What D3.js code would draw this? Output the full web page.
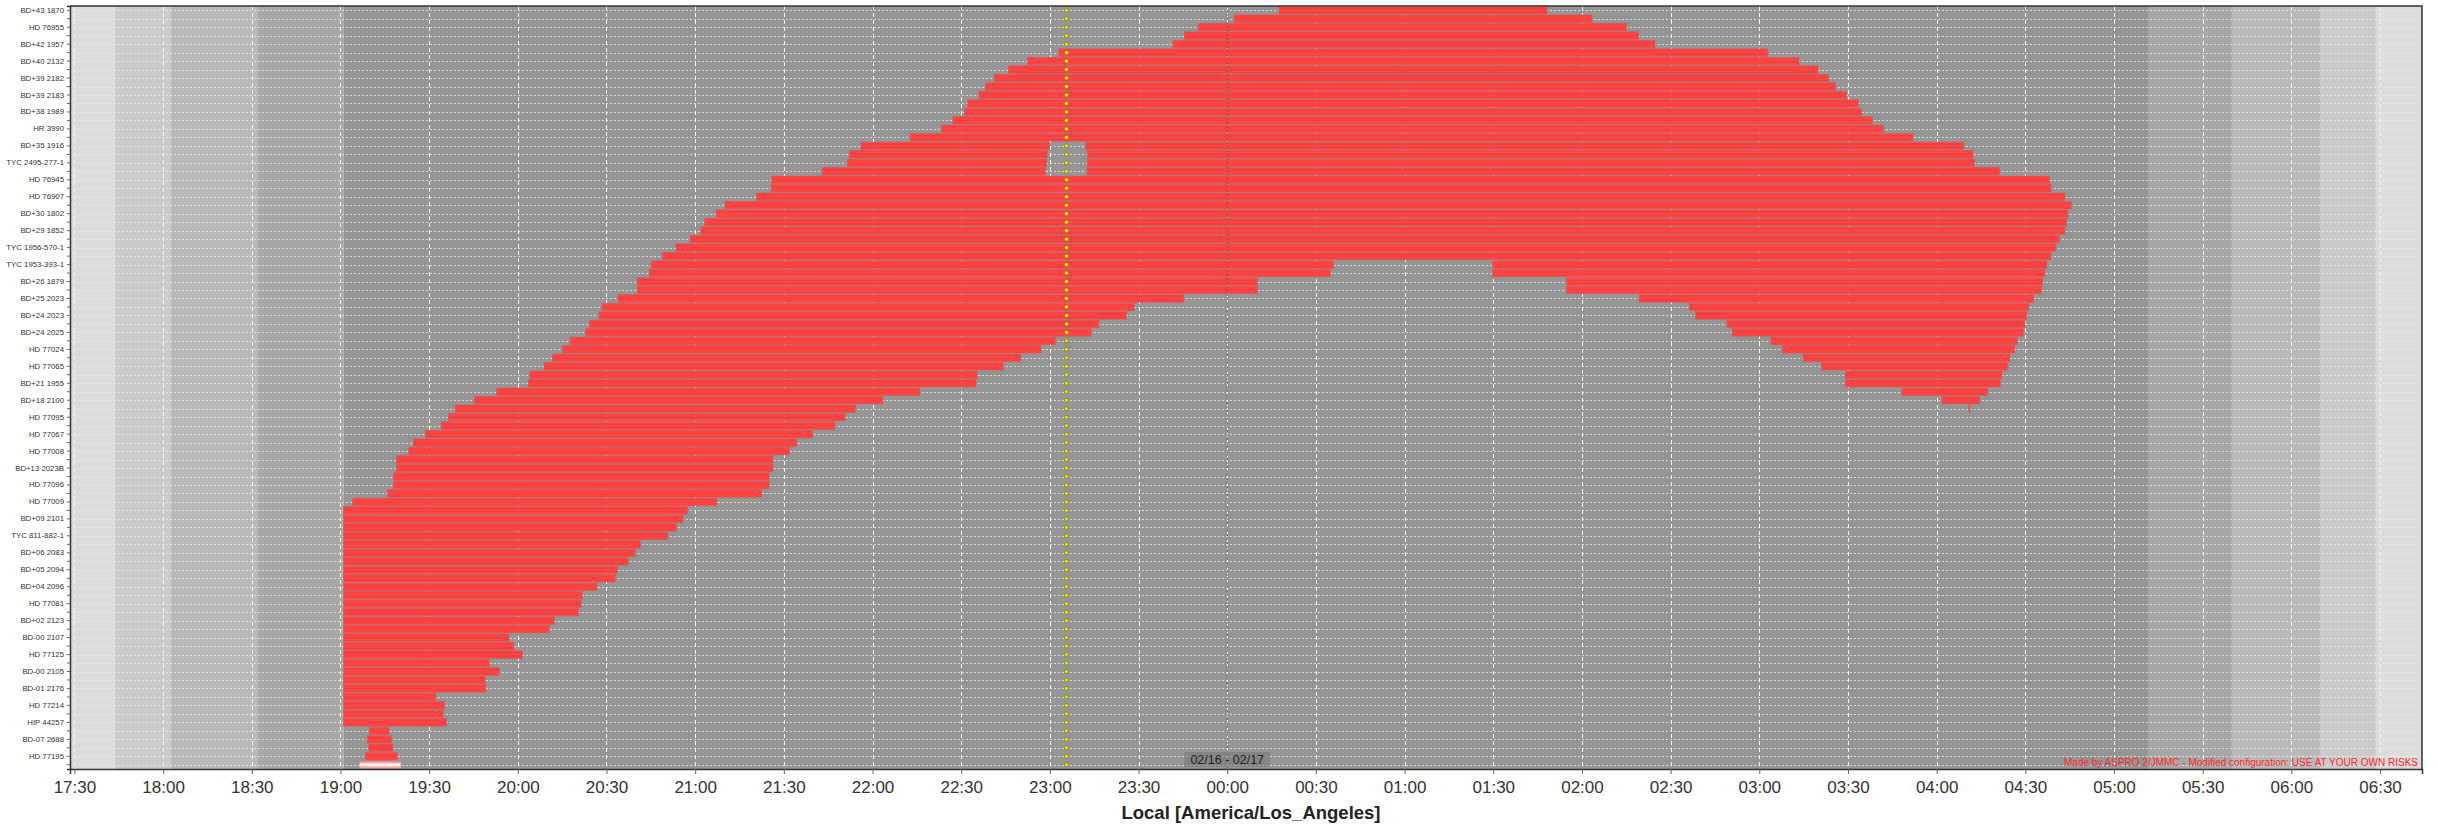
<!DOCTYPE html>
<html>
<head>
<meta charset="utf-8">
<script src="https://cdn.jsdelivr.net/npm/d3@7"></script>
<style>
  body { margin: 0; background: #fff; }
  svg text { font-family: "Liberation Sans", Arial, sans-serif; }
</style>
</head>
<body>
<svg id="canvas"></svg>
<script>
// labels are only printed on every second row (the chart skips the others)
const targets = [
  "BD+43 1870", "HD 76955", "BD+42 1957", "BD+40 2132", "BD+39 2182",
  "BD+39 2183", "BD+38 1989", "HR 3990", "BD+35 1916", "TYC 2495-277-1",
  "HD 76945", "HD 76907", "BD+30 1802", "BD+29 1852", "TYC 1956-570-1",
  "TYC 1953-393-1", "BD+26 1879", "BD+25 2023", "BD+24 2023", "BD+24 2025",
  "HD 77024", "HD 77065", "BD+21 1955", "BD+18 2100", "HD 77095",
  "HD 77067", "HD 77008", "BD+13 2023B", "HD 77096", "HD 77009",
  "BD+09 2101", "TYC 811-882-1", "BD+06 2083", "BD+05 2094", "BD+04 2096",
  "HD 77081", "BD+02 2123", "BD-00 2107", "HD 77125", "BD-00 2105",
  "BD-01 2176", "HD 77214", "HIP 44257", "BD-07 2688", "HD 77195",
];

// observable windows per row, local time (HH:MM.m)
const windows = [
  [["00:17.5", "01:48.2"]],
  [["00:02.3", "02:03.4"]],
  [["23:50.2", "02:15.1"]],
  [["23:45.5", "02:19.1"]],
  [["23:41.6", "02:24.7"]],
  [["23:03.0", "03:02.9"]],
  [["22:52.5", "03:13.4"]],
  [["22:46.0", "03:19.9"]],
  [["22:41.2", "03:23.4"]],
  [["22:38.2", "03:25.8"]],
  [["22:36.0", "03:29.5"]],
  [["22:32.2", "03:33.6"]],
  [["22:31.1", "03:34.6"]],
  [["22:27.2", "03:38.3"]],
  [["22:23.3", "03:42.0"]],
  [["22:12.7", "03:52.0"]],
  [["21:56.1", "22:59.8"], ["23:12.1", "04:09.2"]],
  [["21:52.2", "22:59.1"], ["23:12.7", "04:12.3"]],
  [["21:51.4", "22:58.9"], ["23:12.7", "04:12.7"]],
  [["21:43.0", "22:58.5"], ["23:12.5", "04:21.3"]],
  [["21:25.9", "04:38.3"]],
  [["21:25.7", "04:38.7"]],
  [["21:20.7", "04:43.4"]],
  [["21:10.1", "04:45.6"]],
  [["21:07.1", "04:44.4"]],
  [["21:03.2", "04:44.0"]],
  [["21:01.9", "04:43.4"]],
  [["20:58.3", "04:41.5"]],
  [["20:53.5", "04:40.3"]],
  [["20:49.0", "04:38.7"]],
  [["20:45.1", "00:36.0"], ["01:29.8", "04:37.3"]],
  [["20:44.5", "00:35.0"], ["01:29.8", "04:36.6"]],
  [["20:40.4", "00:10.2"], ["01:54.8", "04:35.8"]],
  [["20:40.4", "00:10.2"], ["01:54.8", "04:35.4"]],
  [["20:33.9", "23:45.3"], ["02:19.3", "04:32.9"]],
  [["20:28.5", "23:28.5"], ["02:36.3", "04:31.1"]],
  [["20:27.4", "23:25.9"], ["02:38.4", "04:30.5"]],
  [["20:24.2", "23:16.6"], ["02:49.0", "04:29.9"]],
  [["20:22.9", "23:14.0"], ["02:50.8", "04:29.3"]],
  [["20:17.7", "23:01.9"], ["03:03.9", "04:27.4"]],
  [["20:15.1", "22:57.0"], ["03:07.8", "04:26.4"]],
  [["20:11.7", "22:50.1"], ["03:14.8", "04:24.8"]],
  [["20:08.9", "22:44.2"], ["03:21.1", "04:24.0"]],
  [["20:04.1", "22:35.4"], ["03:29.1", "04:22.1"]],
  [["20:03.5", "22:35.0"], ["03:29.1", "04:21.5"]],
  [["19:52.9", "22:16.0"], ["03:48.3", "04:17.2"]],
  [["19:45.3", "22:03.5"], ["04:01.8", "04:14.5"]],
  [["19:38.8", "21:54.2"], ["04:10.9", "04:11.3"]],
  [["19:36.5", "21:50.7"]],
  [["19:34.1", "21:47.3"]],
  [["19:28.7", "21:39.7"]],
  [["19:24.8", "21:34.3"]],
  [["19:23.1", "21:31.9"]],
  [["19:19.0", "21:26.3"]],
  [["19:19.0", "21:26.3"]],
  [["19:17.9", "21:25.0"]],
  [["19:17.9", "21:25.0"]],
  [["19:16.0", "21:22.4"]],
  [["19:04.1", "21:07.3"]],
  [["19:01.0", "20:57.4"]],
  [["19:01.0", "20:55.9"]],
  [["19:01.0", "20:53.7"]],
  [["19:01.0", "20:50.7"]],
  [["19:01.0", "20:41.4"]],
  [["19:01.0", "20:39.7"]],
  [["19:01.0", "20:37.3"]],
  [["19:01.0", "20:33.7"]],
  [["19:01.0", "20:33.0"]],
  [["19:01.0", "20:26.8"]],
  [["19:01.0", "20:21.8"]],
  [["19:01.0", "20:21.4"]],
  [["19:01.0", "20:20.5"]],
  [["19:01.0", "20:12.3"]],
  [["19:01.0", "20:10.6"]],
  [["19:01.0", "19:57.0"]],
  [["19:01.0", "19:58.7"]],
  [["19:01.0", "20:01.5"]],
  [["19:01.0", "19:50.3"]],
  [["19:01.0", "19:53.7"]],
  [["19:01.0", "19:49.0"]],
  [["19:01.0", "19:49.2"]],
  [["19:01.0", "19:32.2"]],
  [["19:01.0", "19:35.2"]],
  [["19:01.0", "19:34.7"]],
  [["19:01.0", "19:35.8"]],
  [["19:09.8", "19:16.4"]],
  [["19:09.0", "19:17.2"]],
  [["19:09.6", "19:17.7"]],
  [["19:08.4", "19:19.2"]],
  [["19:06.5", "19:20.4"]],
];
// last row is drawn highlighted in the original
const highlightRow = 89;

const transitTime = "23:05.6";
const timeRange = ["17:28.5", "06:44.2"];
const twilightEdges = ["17:28.5", "17:43.7", "18:02.7", "18:32.1", "19:01.0",
  "05:11.5", "05:39.9", "06:09.7", "06:28.6", "06:44.2"];
const twilightKinds = ["day", "civil", "nautical", "astro", "night",
  "astro", "nautical", "civil", "day"];
const dateLabel = "02/16 - 02/17";
const axisTitle = "Local [America/Los_Angeles]";
const credit = "Made by ASPRO 2/JMMC  - Modified configuration: USE AT YOUR OWN RISKS";

const width = 2438;
const height = 827;
const plot = { left: 70, right: 2422, top: 6, bottom: 769 };

const shade = {
  day: "#dcdcdc",
  civil: "#cbcbcb",
  nautical: "#b9b9b9",
  astro: "#a7a7a7",
  night: "#959595",
};

// times before noon belong to the next day
const toDate = (s) => {
  const [h, m] = s.split(":").map(Number);
  const day = h < 12 ? 17 : 16;
  return new Date(2024, 1, day, h, 0, 0, Math.round(m * 60000));
};

const canvas = d3.select("#canvas").attr("width", width).attr("height", height);

const xScale = d3
  .scaleTime()
  .domain(timeRange.map(toDate))
  .range([plot.left, plot.right]);

const yScale = d3
  .scaleBand()
  .domain(d3.range(windows.length))
  .range([plot.top, plot.bottom]);

const defs = canvas.append("defs");
const grad = defs
  .append("linearGradient")
  .attr("id", "hl")
  .attr("x1", 0).attr("x2", 0).attr("y1", 0).attr("y2", 1);
grad.append("stop").attr("offset", "0%").attr("stop-color", "#ff7070");
grad.append("stop").attr("offset", "50%").attr("stop-color", "#ffffff");
grad.append("stop").attr("offset", "100%").attr("stop-color", "#ff8080");

// twilight bands
canvas
  .append("g")
  .selectAll("rect")
  .data(twilightKinds)
  .enter()
  .append("rect")
  .attr("x", (d, i) => xScale(toDate(twilightEdges[i])))
  .attr("width", (d, i) => xScale(toDate(twilightEdges[i + 1])) - xScale(toDate(twilightEdges[i])))
  .attr("y", plot.top)
  .attr("height", plot.bottom - plot.top)
  .attr("fill", (d) => shade[d]);

const halfHours = d3.timeMinute.every(30).range(...xScale.domain());

// grid
const grid = canvas.append("g");
grid
  .selectAll("line.v")
  .data(halfHours)
  .enter()
  .append("line")
  .attr("x1", (d) => Math.round(xScale(d)) + 0.5)
  .attr("x2", (d) => Math.round(xScale(d)) + 0.5)
  .attr("y1", plot.top)
  .attr("y2", plot.bottom)
  .attr("stroke", "#f4f4f4")
  .attr("stroke-width", 1)
  .attr("stroke-dasharray", "4,3");
grid
  .selectAll("line.h")
  .data(yScale.domain())
  .enter()
  .append("line")
  .attr("x1", plot.left)
  .attr("x2", plot.right)
  .attr("y1", (d) => Math.round(yScale(d) + yScale.bandwidth() / 2) + 0.5)
  .attr("y2", (d) => Math.round(yScale(d) + yScale.bandwidth() / 2) + 0.5)
  .attr("stroke", "#f0f0f0")
  .attr("stroke-opacity", 0.75)
  .attr("stroke-width", 1)
  .attr("stroke-dasharray", "2,2");

// observability bars
const segments = [];
windows.forEach((row, i) => row.forEach((w) => segments.push({ row: i, start: w[0], end: w[1] })));

canvas
  .append("g")
  .selectAll("rect")
  .data(segments)
  .enter()
  .append("rect")
  .attr("x", (d) => xScale(toDate(d.start)))
  .attr("width", (d) => Math.max(1, xScale(toDate(d.end)) - xScale(toDate(d.start))))
  .attr("y", (d) => yScale(d.row) + 0.5)
  .attr("height", yScale.bandwidth() - 1)
  .attr("fill", (d) => (d.row === highlightRow ? "url(#hl)" : "#ff4242"))
  .attr("stroke", (d) => (d.row === highlightRow ? "none" : "#d85a5a"))
  .attr("stroke-width", 0.6);

// midnight marker
const midnight = d3.timeDay.floor(xScale.domain()[1]);
canvas
  .append("line")
  .attr("x1", xScale(midnight))
  .attr("x2", xScale(midnight))
  .attr("y1", plot.top)
  .attr("y2", plot.bottom)
  .attr("stroke", "#555")
  .attr("stroke-opacity", 0.8)
  .attr("stroke-dasharray", "2,2");

// transit markers
canvas
  .append("g")
  .selectAll("circle")
  .data(yScale.domain())
  .enter()
  .append("circle")
  .attr("cx", xScale(toDate(transitTime)))
  .attr("cy", (d) => yScale(d) + yScale.bandwidth() / 2)
  .attr("r", 2)
  .attr("fill", "#e8e800")
  .attr("stroke", "#7a7a10")
  .attr("stroke-width", 0.7);

// date label
const dateG = canvas.append("g").attr("transform", `translate(${xScale(midnight)}, 760)`);
dateG
  .append("rect")
  .attr("x", -43)
  .attr("y", -8)
  .attr("width", 86)
  .attr("height", 15)
  .attr("fill", "#7a7a7a")
  .attr("fill-opacity", 0.6);
dateG
  .append("text")
  .attr("text-anchor", "middle")
  .attr("y", 4)
  .attr("font-size", 12.5)
  .attr("fill", "#222")
  .text(dateLabel);

canvas
  .append("text")
  .attr("x", plot.right - 4)
  .attr("y", plot.bottom - 3)
  .attr("text-anchor", "end")
  .attr("font-size", 10)
  .attr("fill", "#ff2a2a")
  .text(credit);

// axes
const xAxis = d3
  .axisBottom(xScale)
  .ticks(d3.timeMinute.every(30))
  .tickFormat(d3.timeFormat("%H:%M"))
  .tickSize(5)
  .tickPadding(7);

const yAxis = d3
  .axisLeft(yScale)
  .tickFormat((i) => (i % 2 === 0 ? targets[i / 2] : ""))
  .tickSize(3)
  .tickPadding(3);

const gx = canvas
  .append("g")
  .attr("transform", `translate(0, ${plot.bottom})`)
  .call(xAxis);
gx.select(".domain").attr("stroke", "#333").attr("stroke-width", 1.5);
gx.selectAll(".tick line").attr("stroke", "#666");
gx.selectAll(".tick text")
  .attr("font-size", 17)
  .attr("fill", "#333")
  .attr("font-family", "Liberation Sans, Arial, sans-serif");

const gy = canvas
  .append("g")
  .attr("transform", `translate(${plot.left}, 0)`)
  .call(yAxis);
gy.select(".domain").attr("stroke", "#333").attr("stroke-width", 1.5);
gy.selectAll(".tick line").attr("stroke", "#666");
gy.selectAll(".tick text")
  .attr("font-size", 7.8)
  .attr("fill", "#333")
  .attr("font-family", "Liberation Sans, Arial, sans-serif");

// frame top / right
canvas
  .append("path")
  .attr("d", `M${plot.left},${plot.top}H${plot.right}V${plot.bottom}`)
  .attr("fill", "none")
  .attr("stroke", "#333")
  .attr("stroke-width", 1.5);

canvas
  .append("text")
  .attr("x", 1251)
  .attr("y", 819)
  .attr("text-anchor", "middle")
  .attr("font-size", 18.5)
  .attr("font-weight", "bold")
  .attr("fill", "#222")
  .text(axisTitle);
</script>
</body>
</html>
